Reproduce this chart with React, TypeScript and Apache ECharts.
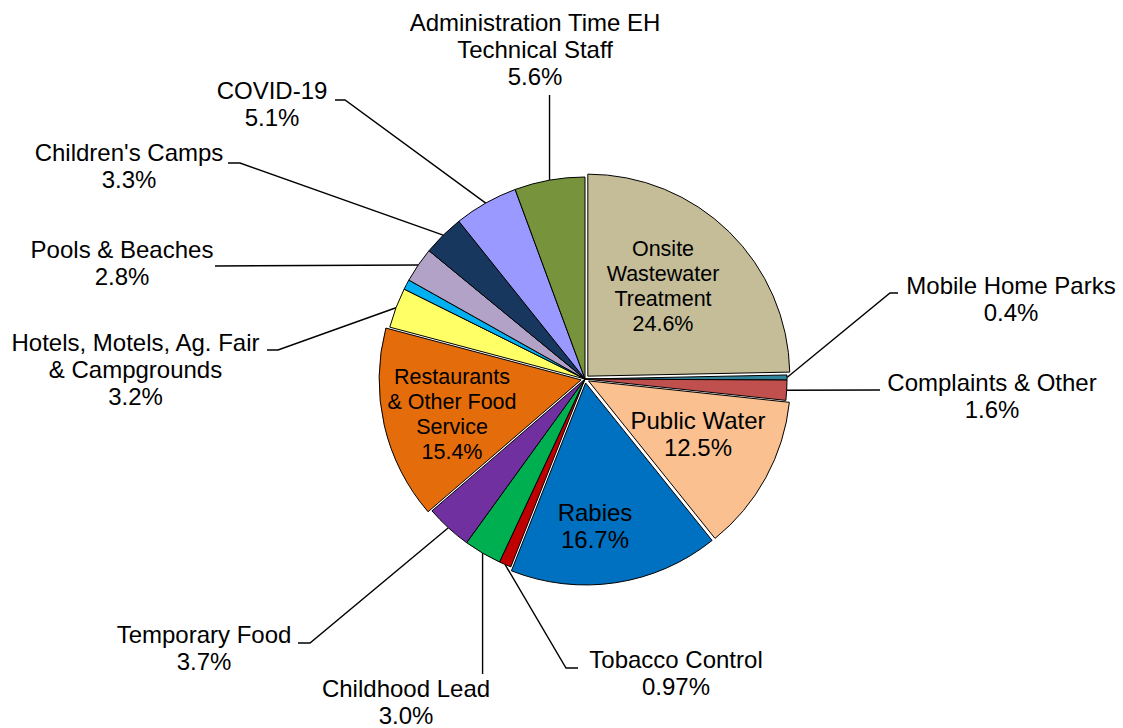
import React, { useEffect, useRef } from 'react';
import * as echarts from 'echarts';

// ---- data ----
const categories = [
  'Onsite\nWastewater\nTreatment',
  'Mobile Home Parks',
  'Complaints & Other',
  'Public Water',
  'Rabies',
  'Tobacco Control',
  'Childhood Lead',
  'Temporary Food',
  'Restaurants\n& Other Food\nService',
  'Hotels, Motels, Ag. Fair\n& Campgrounds',
  'Other',
  'Pools & Beaches',
  "Children's Camps",
  'COVID-19',
  'Administration Time EH\nTechnical Staff',
];
const values = [24.6, 0.4, 1.6, 12.5, 16.7, 0.97, 3.0, 3.7, 15.4, 3.2, 0.8, 2.8, 3.3, 5.1, 5.6];
const percentLabels = ['24.6%', '0.4%', '1.6%', '12.5%', '16.7%', '0.97%', '3.0%', '3.7%', '15.4%', '3.2%', '', '2.8%', '3.3%', '5.1%', '5.6%'];
const colors = [
  '#C4BD97', '#31849B', '#C0504D', '#FAC090', '#0070C0', '#C00000', '#00B050',
  '#7030A0', '#E46C0A', '#FFFF66', '#00B0F0', '#B3A2C7', '#17375E', '#9999FF', '#77933C',
];
const explodedIdx = [0, 3, 4, 8];
const insideIdx = [0, 3, 4, 8];
const hiddenLabelIdx = [10];

// ---- label placement (style) ----
type Place = { x: number; y: number; elbow?: [number | null, number | null]; end?: [number | null, number | null]; fs?: number; lh?: number };
const placement: Record<number, Place> = {
  0: { x: 663, y: 286, fs: 21.5, lh: 25 },
  3: { x: 698, y: 434, fs: 24, lh: 27 },
  4: { x: 595, y: 526, fs: 24, lh: 27 },
  8: { x: 452, y: 414, fs: 21.5, lh: 25 },
  1: { x: 1011, y: 299, elbow: [890, 293], end: [898, 293] },
  2: { x: 992, y: 396, end: [880, 390] },
  5: { x: 676, y: 673, elbow: [566, 668], end: [578, 668] },
  6: { x: 406, y: 702, end: [null, 674] },
  7: { x: 204, y: 648, elbow: [310, 643], end: [298, 643] },
  9: { x: 135.5, y: 369, elbow: [278, 350], end: [267, 350] },
  11: { x: 122, y: 263, end: [215, 266] },
  12: { x: 129, y: 166, elbow: [240, 163], end: [228, 163] },
  13: { x: 272, y: 104, elbow: [345, 100], end: [335, 100] },
  14: { x: 535, y: 49, end: [null, 95] },
};

const FONT = '"Liberation Sans", Arial, sans-serif';
const CENTER = [585, 379];
const RADIUS = 202;

const labelLayout = (prm: any) => {
  const p = placement[prm.dataIndex];
  if (!p) return {};
  const res: any = { x: p.x, y: p.y, align: 'center', verticalAlign: 'middle' };
  if (p.end && prm.labelLinePoints) {
    const s = prm.labelLinePoints[0];
    const end = [p.end[0] == null ? s[0] : p.end[0], p.end[1] == null ? s[1] : p.end[1]];
    const elbow = p.elbow
      ? [p.elbow[0] == null ? s[0] : p.elbow[0], p.elbow[1] == null ? s[1] : p.elbow[1]]
      : end;
    res.labelLinePoints = [[s[0], s[1]], elbow, end];
  }
  return res;
};

const baseLabel = {
  color: '#000',
  fontFamily: FONT,
  fontSize: 24,
  lineHeight: 27,
  align: 'center',
  formatter: (prm: any) => `${categories[prm.dataIndex]}\n${percentLabels[prm.dataIndex]}`,
};

export default function App() {
  const ref = useRef<HTMLDivElement>(null);
  useEffect(() => {
    if (!ref.current) return;
    const chart = echarts.init(ref.current, undefined, { renderer: 'svg' });

    // Visual slices (with exploded ones) + outside labels
    const sliceData = values.map((v, i) => {
      const inside = insideIdx.includes(i);
      const hidden = hiddenLabelIdx.includes(i);
      return {
        name: categories[i],
        value: v,
        selected: explodedIdx.includes(i),
        itemStyle: { color: colors[i] },
        label: { show: !inside && !hidden, position: 'outside' },
        labelLine: { show: !inside && !hidden },
      };
    });

    // Transparent overlay carrying the in-slice labels
    const innerLabelData = values.map((v, i) => {
      const inside = insideIdx.includes(i);
      const p = placement[i];
      return {
        name: categories[i],
        value: v,
        itemStyle: { color: 'rgba(0,0,0,0)', borderWidth: 0 },
        label: {
          show: inside,
          position: 'outside',
          fontSize: p && p.fs ? p.fs : 24,
          lineHeight: p && p.lh ? p.lh : 27,
        },
        labelLine: { show: false },
      };
    });

    chart.setOption({
      animation: false,
      backgroundColor: '#ffffff',
      series: [
        {
          type: 'pie',
          center: CENTER,
          radius: [0, RADIUS],
          startAngle: 90,
          clockwise: true,
          selectedMode: 'multiple',
          selectedOffset: 4,
          avoidLabelOverlap: false,
          silent: true,
          itemStyle: { borderColor: '#000', borderWidth: 1 },
          select: { itemStyle: { borderColor: '#000', borderWidth: 1 } },
          emphasis: { disabled: true },
          label: baseLabel,
          labelLine: {
            length: 10,
            length2: 10,
            lineStyle: { color: '#000', width: 1.4 },
          },
          labelLayout,
          data: sliceData,
        },
        {
          type: 'pie',
          center: CENTER,
          radius: [0, RADIUS],
          startAngle: 90,
          clockwise: true,
          selectedMode: false,
          avoidLabelOverlap: false,
          silent: true,
          emphasis: { disabled: true },
          label: baseLabel,
          labelLine: { show: false },
          labelLayout,
          data: innerLabelData,
        },
      ],
    });
    return () => chart.dispose();
  }, []);
  return (
    <div
      ref={ref}
      style={{ position: 'fixed', left: 0, top: 0, width: 1123, height: 728, background: '#fff' }}
    />
  );
}
